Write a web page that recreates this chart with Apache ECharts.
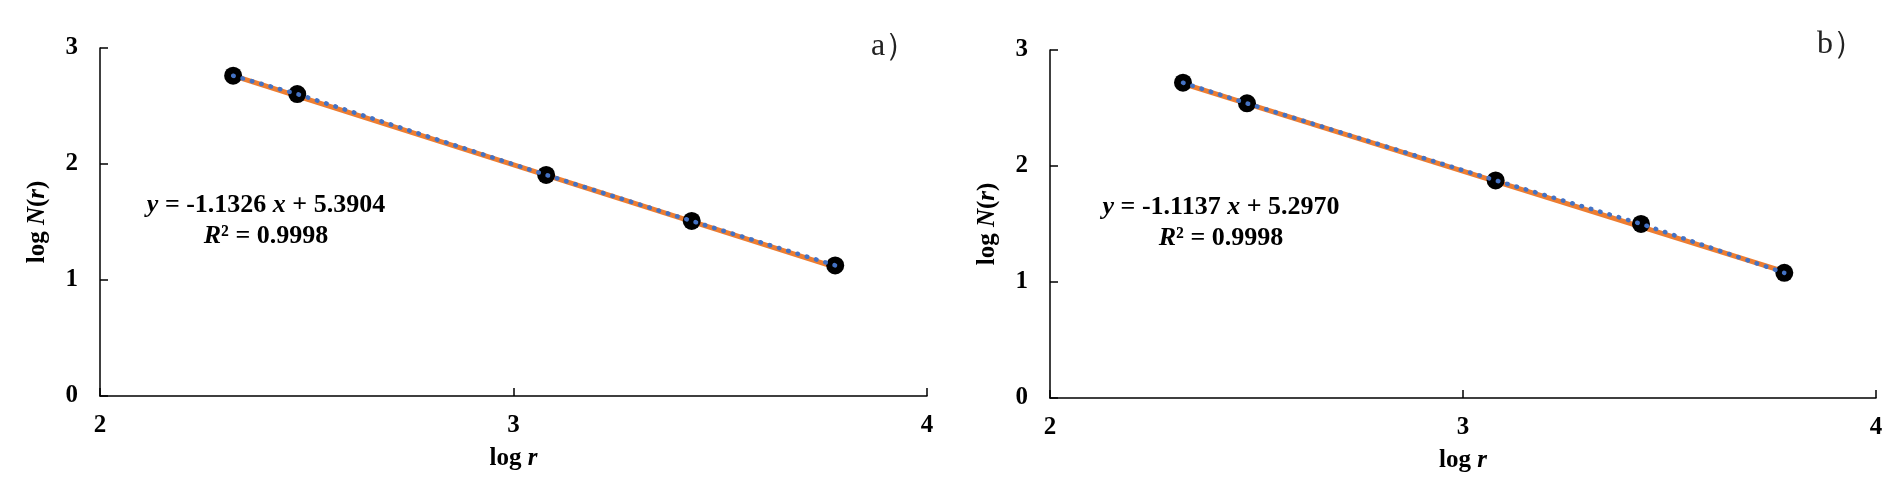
<!DOCTYPE html>
<html>
<head>
<meta charset="utf-8">
<script src="https://cdn.jsdelivr.net/npm/echarts@6/dist/echarts.min.js"></script>
<style>html,body{margin:0;padding:0;background:#fff}#c{width:1895px;height:501px}</style>
</head>
<body>
<div id="c"></div>
<script>
// ---- data ----
const logR = [2.322, 2.477, 3.079, 3.431, 3.778];
const logNa = [2.761, 2.603, 1.906, 1.509, 1.126];
const logNb = [2.718, 2.540, 1.876, 1.501, 1.079];
const trendA = [[2.322, 2.761], [3.778, 1.111]];
const trendB = [[2.322, 2.711], [3.778, 1.089]];
const eqA = ['-1.1326', '5.3904', '0.9998'];
const eqB = ['-1.1137', '5.2970', '0.9998'];
const panelLabels = ['a）', 'b）'];
const xTicks = [2, 3, 4];
const yTicks = [0, 1, 2, 3];

// ---- style ----
const FF = '"Liberation Serif", "Times New Roman", serif';
const FS = 25;
const FSEQ = 26;
const bold = {fontFamily: FF, fontWeight: 'bold', fontSize: FS, color: '#000'};
const richAxis = {
  n: {fontFamily: FF, fontWeight: 'bold', fontSize: FS, color: '#000'},
  i: {fontFamily: FF, fontWeight: 'bold', fontStyle: 'italic', fontSize: FS, color: '#000'}
};

function pts(ys) { return logR.map((x, k) => [x, ys[k]]); }

function xAxis(idx) {
  return {
    type: 'value', gridIndex: idx, min: xTicks[0], max: xTicks[xTicks.length - 1], interval: 1,
    name: '{n|log }{i|r}', nameLocation: 'middle', nameGap: 50,
    nameTextStyle: {rich: richAxis},
    axisLine: {show: true, onZero: false, lineStyle: {color: '#000', width: 1.5}},
    axisTick: {show: true, inside: true, length: 8, lineStyle: {color: '#000', width: 1.5}},
    axisLabel: Object.assign({margin: 17}, bold),
    splitLine: {show: false}
  };
}
function yAxis(idx) {
  return {
    type: 'value', gridIndex: idx, min: yTicks[0], max: yTicks[yTicks.length - 1], interval: 1,
    name: '{n|log }{i|N}{n|(}{i|r}{n|)}', nameLocation: 'middle', nameGap: 50, nameRotate: 90,
    nameTextStyle: {rich: richAxis},
    axisLine: {show: true, onZero: false, lineStyle: {color: '#000', width: 1.5}},
    axisTick: {show: true, inside: true, length: 8, lineStyle: {color: '#000', width: 1.5}},
    axisLabel: Object.assign({margin: 22}, bold),
    splitLine: {show: false}
  };
}
function seriesFor(idx, ys, trend) {
  return [
    {type: 'line', xAxisIndex: idx, yAxisIndex: idx, data: trend, showSymbol: false, z: 1,
     lineStyle: {color: '#ED7D31', width: 5}, animation: false, silent: true},
    {type: 'scatter', xAxisIndex: idx, yAxisIndex: idx, data: pts(ys), symbol: 'circle', symbolSize: 18, z: 2,
     itemStyle: {color: '#000', opacity: 1}, animation: false},
    {type: 'line', xAxisIndex: idx, yAxisIndex: idx, data: pts(ys), showSymbol: false, z: 3,
     lineStyle: {color: '#4472C4', width: 4.5, type: [0.6, 9.1], cap: 'round'}, animation: false, silent: true}
  ];
}
function eqText(cx, cy, eq) {
  const rich = {
    n: {fontFamily: FF, fontWeight: 'bold', fontSize: FSEQ, fill: '#000', color: '#000'},
    i: {fontFamily: FF, fontWeight: 'bold', fontStyle: 'italic', fontSize: FSEQ, fill: '#000', color: '#000'}
  };
  return [
    {type: 'text', x: cx, y: cy, style: {text: '{i|y}{n| = ' + eq[0] + ' }{i|x}{n| + ' + eq[1] + '}', rich: rich,
      align: 'center', verticalAlign: 'middle', fontFamily: FF, fontWeight: 'bold', fontSize: FSEQ, fill: '#000'}},
    {type: 'text', x: cx, y: cy + 31, style: {text: '{i|R}{n|² = ' + eq[2] + '}', rich: rich,
      align: 'center', verticalAlign: 'middle', fontFamily: FF, fontWeight: 'bold', fontSize: FSEQ, fill: '#000'}}
  ];
}

const chart = echarts.init(document.getElementById('c'), null, {renderer: 'canvas'});
chart.setOption({
  backgroundColor: '#fff',
  animation: false,
  grid: [
    {left: 100, top: 48, width: 827, height: 348, containLabel: false, outerBoundsMode: 'none'},
    {left: 1050, top: 50, width: 826, height: 348, containLabel: false, outerBoundsMode: 'none'}
  ],
  xAxis: [xAxis(0), xAxis(1)],
  yAxis: [yAxis(0), yAxis(1)],
  series: [].concat(seriesFor(0, logNa, trendA), seriesFor(1, logNb, trendB)),
  graphic: [].concat(
    eqText(266, 205, eqA),
    eqText(1221, 207, eqB),
    [
      {type: 'text', x: 894, y: 47, style: {text: panelLabels[0], align: 'center', verticalAlign: 'middle',
        fontFamily: FF, fontSize: 32, fill: '#222'}},
      {type: 'text', x: 1841, y: 45, style: {text: panelLabels[1], align: 'center', verticalAlign: 'middle',
        fontFamily: FF, fontSize: 32, fill: '#222'}}
    ]
  )
});
</script>
</body>
</html>
